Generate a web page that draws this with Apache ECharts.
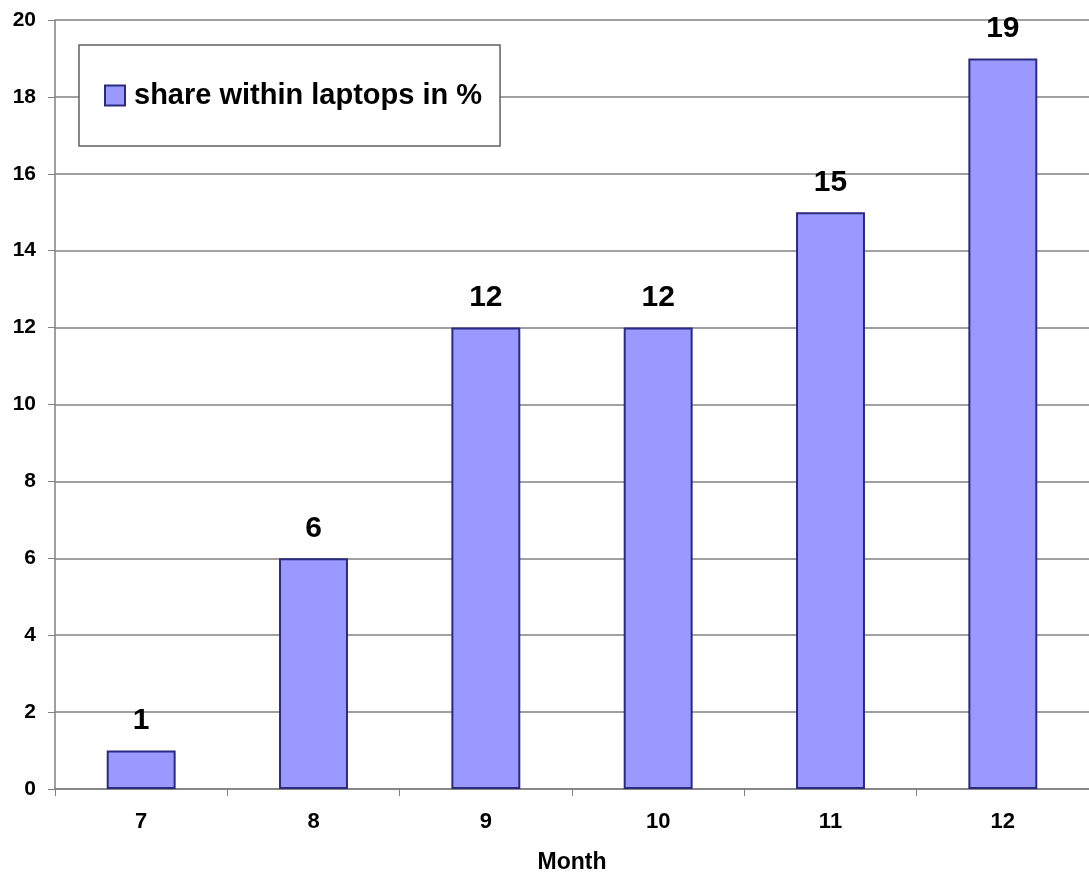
<!DOCTYPE html>
<html>
<head>
<meta charset="utf-8">
<script src="https://cdn.jsdelivr.net/npm/echarts@6/dist/echarts.min.js"></script>
<style>
  html, body { margin: 0; padding: 0; background: #fff; }
  #chart { width: 1089px; height: 873px; }
</style>
</head>
<body>
<div id="chart"></div>
<script>
// month numbers on the x axis
const months = ["7", "8", "9", "10", "11", "12"];
// share within laptops in %
const shareValues = [1, 6, 12, 12, 15, 19];
const seriesName = "share within laptops in %";

const chart = echarts.init(document.getElementById("chart"));
const font = "Arial, 'Liberation Sans', sans-serif";

chart.setOption({
  backgroundColor: "#fff",
  animation: false,
  grid: {
    left: 55,
    right: 0,
    top: 20,
    bottom: 84,
    outerBoundsMode: "none",
    containLabel: false
  },
  legend: {
    data: [seriesName],
    left: 79,
    top: 45,
    orient: "horizontal",
    backgroundColor: "#fff",
    borderColor: "#606060",
    borderWidth: 1.5,
    padding: [36, 18, 36, 25],
    itemWidth: 20,
    itemHeight: 20,
    icon: "rect",
    itemStyle: { borderColor: "#2A2A80", borderWidth: 2 },
    textStyle: {
      fontFamily: font,
      fontWeight: "bold",
      fontSize: 29,
      color: "#000",
      padding: [0, 0, 0, 4]
    }
  },
  xAxis: {
    type: "category",
    data: months,
    name: "Month",
    nameLocation: "middle",
    nameGap: 62,
    nameTextStyle: {
      fontFamily: font,
      fontWeight: "bold",
      fontSize: 23,
      color: "#000"
    },
    axisLine: { lineStyle: { color: "#808080", width: 1.5 } },
    axisTick: { show: true, length: 7, lineStyle: { color: "#808080" } },
    axisLabel: {
      margin: 22,
      fontFamily: font,
      fontWeight: "bold",
      fontSize: 22,
      color: "#000"
    }
  },
  yAxis: {
    type: "value",
    min: 0,
    max: 20,
    interval: 2,
    axisLine: { show: true, lineStyle: { color: "#808080", width: 1.5 } },
    axisTick: { show: true, length: 7, lineStyle: { color: "#808080" } },
    axisLabel: {
      margin: 19,
      fontFamily: font,
      fontWeight: "bold",
      fontSize: 21,
      color: "#000"
    },
    splitLine: { show: true, lineStyle: { color: "#808080", width: 1.5 } }
  },
  series: [
    {
      name: seriesName,
      type: "bar",
      data: shareValues,
      barWidth: "40%",
      itemStyle: {
        color: "#9999FF",
        borderColor: "#2A2A80",
        borderWidth: 2
      },
      label: {
        show: true,
        position: "top",
        distance: 15,
        fontFamily: font,
        fontWeight: "bold",
        fontSize: 30,
        color: "#000"
      }
    }
  ]
});
</script>
</body>
</html>
